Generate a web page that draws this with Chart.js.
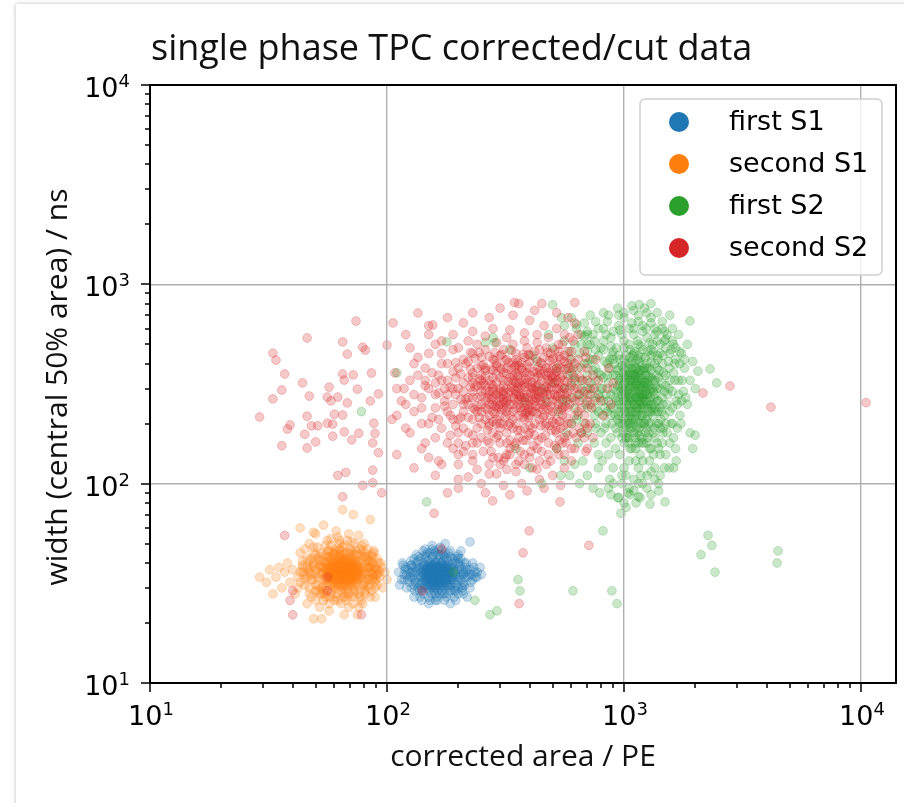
<!DOCTYPE html>
<html>
<head>
<meta charset="utf-8">
<script src="https://cdn.jsdelivr.net/npm/chart.js@4.4.1/dist/chart.umd.min.js"></script>
<style>
  html, body { margin: 0; padding: 0; background: #fff; overflow: hidden; }
  .card { position: absolute; left: 16px; top: 4px; width: 1000px; height: 1000px; background: #fff; box-shadow: 0 0 4px rgba(0,0,0,0.28); }
  #chart { position: absolute; left: 0; top: 0; }
</style>
</head>
<body>
<div class="card"></div>
<canvas id="chart" width="904" height="803"></canvas>
<script>
// [corrected area / PE, width / ns]
const firstS1 = [
  [160,34],[155,36],[170,33],[148,35],[165,38],[175,35],[152,32],[162,31],[180,34],[145,37],
  [168,36],[158,39],[172,31],[150,33],[185,36],[163,35],[142,34],[178,38],[157,30],[167,33],
  [153,38],[190,33],[161,37],[147,31],[174,37],[159,33],[183,31],[144,39],[169,40],[156,34],
  [176,32],[151,36],[164,29],[187,38],[149,38],[171,35],[158,36],[139,36],[181,36],[166,31],
  [154,30],[173,39],[146,34],[162,40],[193,35],[157,37],[168,30],[141,32],[177,34],[160,32],
  [152,40],[184,33],[163,38],[149,30],[170,37],[155,33],[189,37],[143,35],[166,35],[175,30],
  [159,41],[136,34],[180,39],[151,34],[167,38],[196,34],[148,37],[161,33],[172,41],[154,36],
  [186,31],[140,38],[164,36],[178,32],[157,32],[145,33],[169,34],[182,37],[153,35],[162,36],
  [138,31],[174,33],[150,39],[191,36],[165,32],[158,35],[147,36],[171,38],[199,33],[156,31],
  [134,37],[179,35],[160,38],[144,30],[167,36],[152,37],[185,34],[163,33],[141,36],[176,36],
  [130,35],[128,38],[132,32],[125,36],[205,35],[210,32],[202,38],[215,36],[122,33],[200,30],
  [135,41],[195,40],[155,43],[175,43],[165,44],[145,42],[188,42],[140,29],[185,29],[160,28],
  [150,27],[172,28],[195,29],[127,30],[120,38],[118,35],[220,34],[225,37],[212,40],[208,29],
  [133,44],[182,45],[158,46],[148,45],[170,46],[138,27],[178,27],[163,26],[192,27],[126,41],
  [115,33],[230,33],[224,30],[117,39],[198,43],[142,46],[168,48],[152,26],[185,25],[205,42],
  [235,36],[112,36],[240,34],[247,38],[113,31],[130,27],[218,27],[155,49],[176,50],[250,35],
  [224,51],
  [161,35],[156,33],[167,37],[151,35],[173,34],[158,37],[163,32],[146,36],[178,36],[154,34],
  [169,32],[160,36],[148,33],[175,38],[164,34],[153,37],[181,33],[159,31],[170,35],[144,35],
  [166,39],[157,35],[184,35],[150,31],[172,36],[162,34],[141,37],[177,31],[155,38],[168,34],
  [188,34],[152,33],[165,36],[147,38],[179,37],[160,30],[171,33],[143,33],[183,38],[158,33],
  [163,37],[149,36],[174,35],[156,39],[186,36],[161,32],[153,31],[176,39],[145,39],[167,35],
  [190,38],[159,38],[170,31],[152,38],[180,31],[164,38],[148,34],[173,32],[157,36],[192,32],
  [139,34],[166,33],[182,35],[154,39],[162,38],[147,32],[178,34],[169,38],[150,37],[187,33],
  [137,38],[158,40],[175,33],[164,31],[194,36],[145,31],[171,40],[155,32],[184,38],[160,40],
  [135,32],[198,37],[142,40],[189,40],[140,30],[196,31],[149,41],[181,41],[165,42],[154,28],
  [170,29],[202,34],[132,36],[206,37],[131,33],[200,40],[137,29],[193,30],[146,43],[178,42],
  [210,35],[128,34],[214,38],[126,39],[208,31],[134,40],[157,44],[173,44],[162,27],[182,28],
  [125,34],[128,36],[122,37],[130,31],[127,39],[133,38],[121,35],[131,29],[136,43],[124,32],
  [205,33],[210,36],[215,34],[203,39],[208,30],[218,37],[212,31],[222,35],[200,42],[216,40],
  [145,44],[152,45],[160,45],[168,44],[176,45],[185,43],[193,42],[138,42],[200,44],[130,42],
  [142,28],[150,29],[158,29],[167,28],[175,28],[184,30],[192,29],[200,28],[135,30],[210,28],
  [118,33],[119,37],[228,35],[232,38],[226,32],[116,40],[236,34],[121,30],[230,40],[240,36],
  [155,47],[165,47],[185,46],[145,47],[175,26],[150,25],[195,26],[140,26],[205,46],[160,26]
];

const secondS1 = [
  [62,36],[68,34],[58,38],[71,37],[65,33],[60,35],[74,35],[66,39],[55,34],[69,31],
  [63,40],[77,36],[59,32],[64,37],[70,42],[57,37],[67,35],[72,33],[61,30],[66,36],
  [54,38],[75,39],[63,34],[68,38],[58,35],[73,31],[65,41],[60,39],[79,35],[56,32],
  [67,29],[64,35],[70,36],[62,43],[59,36],[71,34],[66,32],[53,35],[76,33],[63,38],
  [69,40],[57,41],[74,37],[61,33],[65,36],[72,39],[55,30],[68,36],[60,37],[78,38],
  [64,31],[66,44],[58,33],[73,35],[62,35],[70,32],[56,36],[67,38],[75,34],[61,41],
  [64,39],[69,35],[59,30],[71,40],[57,34],[66,34],[63,32],[72,36],[54,33],[68,32],
  [60,42],[77,34],[65,38],[62,31],[74,41],[58,39],[67,36],[70,38],[63,36],[55,40],
  [66,31],[61,37],[72,30],[59,41],[69,37],[64,33],[76,37],[57,35],[68,41],[62,39],
  [73,38],[65,34],[60,33],[71,36],[58,31],[67,40],[63,42],[80,36],[56,38],[70,34],
  [61,36],[74,33],[66,37],[59,38],[69,33],[64,44],[52,36],[72,42],[65,30],[62,37],
  [48,35],[50,31],[46,38],[84,36],[87,33],[82,40],[51,42],[85,38],[45,33],[79,31],
  [53,45],[77,44],[49,39],[88,37],[44,36],[81,29],[52,28],[76,28],[57,46],[70,47],
  [63,47],[47,30],[90,35],[42,34],[86,41],[50,44],[55,27],[68,27],[74,46],[83,33],
  [40,37],[93,34],[48,27],[60,26],[78,26],[66,49],[58,49],[44,41],[89,30],[39,32],
  [95,38],[46,25],[52,24],[64,25],[72,25],[81,45],[36,30],[37,36],[34,34],[31,32],
  [33,28],[41,28],[56,52],[71,51],[62,54],[80,50],[49,48],[43,45],[98,36],[100,33],
  [38,40],[35,38],[57,23],[66,22],[53,21],[75,22],[85,27],[91,42],[47,50],[61,58],
  [50,56],[69,56],[45,47],[42,30],[29,34],[32,37],[54,62],[76,55],[88,45],[96,30],
  [65,74],[72,70],[85,66],[43,60],[49,57],[49,21],
  [64,36],[67,37],[61,34],[70,35],[58,36],[73,36],[65,40],[62,33],[68,39],[56,35],
  [71,33],[63,37],[66,35],[60,31],[75,36],[59,40],[69,36],[64,34],[72,38],[57,33],
  [67,33],[62,38],[70,39],[55,37],[74,34],[65,37],[61,40],[68,35],[63,35],[77,37],
  [58,34],[66,38],[71,31],[60,36],[73,40],[64,42],[69,34],[56,39],[67,31],[62,36],
  [75,38],[59,35],[70,37],[65,35],[61,32],[72,34],[57,38],[68,33],[63,39],[66,41],
  [78,34],[54,36],[71,39],[60,38],[74,32],[64,38],[69,42],[58,37],[67,34],[62,40],
  [76,35],[55,33],[65,39],[70,33],[61,35],[73,37],[59,33],[68,37],[63,31],[66,33],
  [80,38],[53,38],[72,41],[57,36],[75,31],[64,40],[69,38],[60,34],[67,42],[62,34],
  [78,40],[56,41],[71,37],[58,42],[74,39],[65,43],[61,38],[68,30],[63,44],[70,40],
  [82,35],[51,34],[83,38],[52,39],[81,32],[54,31],[79,42],[57,43],[76,41],[60,44],
  [84,34],[50,37],[86,39],[49,33],[78,29],[55,28],[72,28],[62,28],[67,45],[59,45],
  [73,44],[64,46],[52,41],[83,42],[48,38],[87,35],[53,30],[80,31],[47,36],[89,38],
  [45,35],[90,33],[51,29],[77,47],[44,38],[92,37],[58,28],[66,27],[71,46],[61,46],
  [84,30],[47,41],[86,44],[43,32],[94,40],[50,26],[79,25],[57,25],[69,24],[63,50],
  [50,35],[52,38],[48,33],[53,41],[51,31],[47,37],[55,44],[49,40],[54,29],[46,34],
  [86,36],[88,34],[84,38],[90,37],[83,31],[87,40],[85,33],[91,35],[82,43],[89,32],
  [52,43],[56,46],[60,47],[65,48],[70,45],[75,44],[80,43],[48,42],[84,41],[87,43],
  [53,28],[57,27],[62,26],[67,26],[72,27],[77,27],[81,28],[50,29],[86,29],[45,31],
  [44,39],[92,40],[43,36],[93,36],[46,42],[91,31],[49,45],[88,46],[55,49],[78,49],
  [58,53],[68,52],[73,50],[63,52],[51,48],[83,47],[47,28],[89,27],[54,26],[76,24],
  [60,45],[64,29],[69,28],[58,29],[73,29],[61,27],[66,28],[70,44],[56,43],[79,46]
];

const firstS2 = [
  [1100,250],[1050,280],[1150,230],[980,300],[1200,270],[1080,210],[1250,320],[1000,240],[1130,190],[1180,350],
  [1020,260],[1300,250],[950,220],[1120,300],[1060,330],[1220,200],[990,180],[1160,280],[1090,370],[1270,230],
  [1040,200],[1140,260],[920,270],[1210,310],[1070,240],[1330,290],[1010,320],[1190,170],[1110,400],[960,250],
  [1240,260],[1030,170],[1170,220],[1080,290],[1350,330],[940,310],[1150,340],[1060,190],[1280,380],[1000,290],
  [1120,160],[1200,240],[1090,260],[980,200],[1260,280],[1040,350],[1180,300],[1110,230],[900,240],[1320,220],
  [1070,310],[1230,350],[1020,220],[1140,420],[1160,190],[970,340],[1290,300],[1050,250],[1210,160],[1100,330],
  [1380,260],[1000,210],[1130,270],[1250,240],[1080,380],[930,290],[1190,250],[1060,150],[1300,340],[1150,310],
  [1010,270],[1270,200],[1120,350],[1040,230],[1220,280],[990,360],[1170,260],[1090,200],[1340,270],[960,200],
  [1110,290],[1230,310],[1050,310],[1180,200],[1070,270],[1310,240],[1000,380],[1140,240],[1260,330],[1030,290],
  [1200,220],[1100,180],[950,260],[1280,260],[1130,320],[1060,230],[1160,410],[1240,190],[1020,340],[1190,280],
  [1420,300],[880,280],[1090,440],[1150,160],[1360,230],[1010,190],[1210,370],[1070,350],[1120,210],[1250,300],
  [1400,340],[1450,270],[1480,220],[1380,380],[1420,190],[1500,310],[1350,170],[1470,360],[1520,250],[1390,420],
  [850,350],[820,260],[800,300],[870,420],[830,190],[780,230],[760,330],[900,460],[1000,480],[1150,500],
  [1300,470],[1420,450],[1550,380],[1600,290],[1580,200],[1450,160],[1300,150],[1200,130],[1050,130],[920,150],
  [840,160],[760,200],[720,280],[700,350],[740,420],[800,480],[880,540],[980,560],[1100,560],[1250,540],
  [1380,520],[1500,480],[1650,420],[1700,330],[1680,250],[1620,170],[1500,140],[1350,120],[1180,110],[1020,110],
  [900,120],[810,130],[750,160],[690,250],[660,300],[680,400],[720,500],[820,600],[950,620],[1080,640],
  [1200,620],[1350,600],[1480,580],[1600,520],[1750,450],[1800,380],[1780,290],[1720,220],[1650,150],[1550,120],
  [1400,100],[1250,95],[1100,92],[980,100],[870,105],[780,120],[700,180],[640,220],[620,330],[650,450],
  [700,560],[760,650],[860,700],[1000,720],[1150,700],[1300,680],[1450,650],[1600,600],[1850,500],[1900,330],
  [1850,250],[1900,180],[780,140],[1040,90],[1170,85],[1300,88],[1420,110],[1620,120],[940,85],[860,95],
  [1080,780],[1220,760],[940,760],[1380,720],[1560,700],[1700,560],[1950,410],[2000,300],[1300,800],[1160,790],
  [600,420],[580,350],[560,300],[620,500],[550,260],[520,380],[600,200],[640,160],[570,180],[530,230],
  [500,320],[610,270],[660,180],[590,460],[630,600],[560,520],[680,640],[600,680],[560,620],[720,700],
  [500,790],[545,680],[630,630],[700,580],[660,560],[480,560],[500,480],[520,150],[470,260],[450,300],
  [430,410],[410,440],[380,260],[330,470],[280,540],[260,510],[285,510],[400,120],[350,150],[590,110],
  [560,130],[650,100],[700,110],[620,125],[670,130],[540,110],[450,100],[740,95],[790,90],[880,88],
  [950,85],[1000,80],[1020,76],[1124,80],[1288,79],[1489,81],[971,71],[1060,88],[1150,86],[1400,92],
  [815,58],[2262,55],[2350,49],[2113,44],[2421,36],[4467,46],[4425,40],[357,33],[364,29],[609,29],
  [889,29],[934,25],[272,22],[291,23],[235,26],[191,36],[2306,376],[2460,320],[2051,367],[1898,655],
  [1995,175],[1950,150],[78,230],[110,360],[179,514],[147,81],
  [1120,270],[1060,300],[1180,240],[1010,230],[1230,290],[1090,320],[1150,360],[1040,270],[1200,330],[1130,220],
  [980,280],[1260,250],[1070,190],[1190,390],[1110,340],[1020,300],[1240,210],[1160,250],[1050,360],[1290,270],
  [950,330],[1140,290],[1080,230],[1220,380],[1000,260],[1170,310],[1120,170],[1270,310],[1030,380],[1210,250],
  [1090,280],[1150,200],[1320,300],[960,230],[1180,430],[1060,260],[1250,350],[1010,350],[1140,180],[1300,230],
  [1080,410],[1200,280],[990,310],[1130,380],[1230,180],[1040,210],[1170,340],[1280,340],[930,260],[1110,250],
  [1350,280],[1020,400],[1190,220],[1070,330],[1260,220],[1150,270],[980,390],[1220,320],[1100,210],[1330,250],
  [1050,170],[1160,370],[1240,280],[1000,340],[1120,310],[1300,370],[970,290],[1180,270],[1080,360],[1210,200],
  [1140,330],[1030,250],[1270,180],[1100,450],[1360,310],[1060,220],[1190,320],[1010,280],[1250,380],[1130,240],
  [900,300],[1400,260],[1440,320],[1370,200],[1460,250],[1410,370],[1480,290],[1390,230],[1530,280],[1350,400],
  [860,320],[880,240],[920,350],[840,280],[890,200],[910,400],[870,380],[940,180],[850,230],[960,420],
  [1000,160],[1080,150],[1170,140],[1250,160],[1340,190],[1430,210],[1560,330],[1540,410],[1460,440],[1330,460],
  [1200,470],[1060,470],[950,440],[830,410],[800,350],[790,270],[810,220],[880,170],[960,140],[1120,130],
  [1280,130],[1400,150],[1520,180],[1600,240],[1620,360],[1560,450],[1420,500],[1280,510],[1140,520],[1000,520],
  [880,490],[780,440],[740,370],[750,260],[760,190],[860,140],[1000,120],[1150,120],[1330,140],[1460,190],
  [1020,170],[1110,460],[1230,430],[1300,410],[1370,350],[1420,240],[1350,240],[1300,200],[1050,400],[940,370],
  [700,300],[650,280],[620,240],[680,200],[640,380],[600,310],[570,260],[720,420],[660,330],[590,380],
  [750,220],[700,240],[670,270],[630,210],[610,350],[700,460],[660,500],[750,520],[820,520],[900,580],
  [1050,600],[1200,580],[1350,560],[1500,530],[1650,480],[1720,400],[1750,260],[1680,190],[1560,160],[1420,140],
  [1000,680],[850,650],[1150,650],[1300,640],[1450,600],[780,600],[1100,740],[1250,720],[950,700],[820,720],
  [1050,95],[1200,100],[1350,105],[900,100],[1250,110],[1100,105],[980,110],[1150,100],[1300,115],[1480,120],
  [980,240],[1040,320],[1100,350],[1160,300],[1220,260],[1280,290],[1320,330],[1060,200],[1000,200],[960,320],
  [920,220],[900,350],[950,380],[1000,420],[1060,430],[1120,380],[1180,370],[1240,400],[1300,440],[1380,300],
  [1440,230],[1400,200],[1330,180],[1260,170],[1190,160],[1120,150],[1050,160],[980,170],[920,190],[880,220],
  [830,240],[810,300],[850,400],[890,440],[930,480],[1050,500],[1180,490],[1320,500],[1450,400],[1500,350],
  [1550,300],[1560,230],[1500,200],[1460,180],[1380,160],[1280,150],[1160,175],[1040,180],[940,210],[860,260],
  [780,280],[760,240],[800,180],[840,200],[720,320],[740,300],[700,400],[760,380],[820,340],[780,360],
  [1640,330],[1660,260],[1600,200],[1700,280],[1640,400],[1580,470],[1480,520],[1380,440],[1260,460],[1150,440],
  [1020,440],[900,420],[820,470],[760,470],[700,500],[680,550],[740,560],[840,560],[960,590],[1100,600],
  [1240,600],[1380,580],[1520,560],[1620,500],[1720,460],[1800,420],[1760,330],[1820,270],[1740,200],[1660,130]
];

const secondS2 = [
  [300,250],[270,280],[330,220],[250,230],[360,300],[290,200],[400,260],[230,320],[320,180],[280,340],
  [350,240],[260,260],[310,310],[380,210],[240,190],[340,350],[270,220],[420,280],[300,160],[220,270],
  [370,330],[290,260],[330,290],[250,350],[410,190],[280,180],[360,250],[210,230],[320,380],[390,320],
  [260,310],[300,220],[440,240],[230,210],[350,200],[280,300],[320,260],[380,360],[240,270],[300,340],
  [410,230],[270,160],[340,270],[200,300],[360,170],[290,390],[430,310],[250,200],[320,230],[380,280],
  [220,340],[310,200],[350,320],[270,250],[400,350],[240,160],[330,250],[290,320],[460,270],[210,190],
  [370,230],[260,370],[310,280],[420,200],[280,230],[340,190],[190,250],[360,390],[300,300],[250,290],
  [450,330],[230,240],[330,340],[280,270],[390,250],[320,160],[270,330],[350,280],[210,320],[400,180],
  [300,200],[240,310],[370,270],[290,240],[480,300],[260,210],[340,230],[310,360],[220,180],[380,190],
  [290,170],[350,360],[250,250],[420,340],[320,300],[270,200],[360,220],[200,210],[390,290],[300,270],
  [460,220],[230,290],[330,200],[280,370],[410,300],[250,170],[310,240],[370,310],[180,280],[340,320],
  [270,290],[440,270],[300,190],[220,250],[360,350],[290,210],[400,220],[250,330],[320,270],[380,240],
  [185,220],[195,340],[175,300],[500,260],[520,300],[490,220],[470,350],[510,200],[530,250],[480,380],
  [160,240],[150,300],[170,190],[140,270],[165,350],[180,400],[210,420],[250,430],[300,440],[350,420],
  [400,410],[450,400],[500,380],[540,340],[560,280],[550,220],[520,180],[480,160],[430,150],[380,140],
  [330,140],[280,135],[230,140],[190,150],[160,170],[140,200],[130,230],[125,330],[145,380],[170,450],
  [200,480],[240,500],[290,510],[340,500],[390,480],[440,470],[490,450],[540,420],[580,380],[600,320],
  [620,260],[600,200],[570,160],[530,140],[470,125],[410,120],[350,115],[290,112],[240,118],[200,125],
  [165,130],[140,150],[120,190],[115,260],[118,300],[135,430],[160,500],[190,560],[230,580],[280,600],
  [330,590],[380,570],[430,560],[480,540],[530,500],[580,460],[620,400],[650,340],[680,290],[640,230],
  [660,180],[620,150],[560,120],[500,110],[440,105],[370,100],[310,98],[250,100],[200,105],[160,110],
  [130,120],[110,140],[105,210],[108,360],[125,480],[150,560],[210,640],[270,680],[340,700],[400,660],
  [460,620],[520,600],[560,560],[610,520],[690,430],[700,330],[720,250],[700,190],[690,145],[600,130],
  [230,720],[300,760],[360,800],[420,740],[520,720],[580,680],[620,640],[450,800],[345,810],[620,810],
  [150,620],[180,680],[120,560],[200,95],[260,90],[330,88],[390,92],[460,95],[540,98],[180,90],
  [650,260],[700,280],[750,300],[680,220],[730,240],[760,270],[640,300],[620,340],[700,380],[780,330],
  [800,260],[720,200],[660,380],[590,420],[610,180],[740,170],[560,300],[580,240],[520,330],[540,380],
  [850,300],[880,250],[900,320],[820,220],[860,380],[760,420],[680,460],[590,540],[700,150],[640,560],
  [215,265],[245,335],[285,415],[325,195],[365,275],[405,145],[445,355],[185,305],[225,375],[265,185],
  [305,445],[345,155],[385,335],[425,245],[465,175],[195,195],[235,425],[275,315],[315,135],[355,405],
  [395,215],[435,385],[475,255],[515,345],[555,195],[205,355],[255,145],[295,285],[335,465],[375,165],
  [415,295],[455,215],[495,305],[535,165],[575,325],[175,245],[215,155],[255,395],[295,135],[335,375],
  [375,445],[415,155],[455,285],[495,185],[535,435],[165,285],[205,265],[245,215],[285,455],[325,325],
  [365,145],[405,325],[445,195],[485,415],[525,235],[565,375],[190,365],[230,175],[270,435],[310,265],
  [350,125],[390,395],[430,225],[470,305],[510,155],[550,265],[155,215],[195,405],[235,305],[275,145],
  [315,415],[355,185],[395,445],[435,165],[475,335],[515,275],[145,330],[185,175],[225,455],[265,235],
  [305,375],[345,295],[385,165],[425,425],[465,245],[505,355],[545,305],[170,400],[210,145],[250,275],
  [290,355],[330,165],[370,405],[410,265],[450,145],[490,245],[530,395],[570,215],[180,330],[220,215],
  [260,345],[300,125],[340,405],[380,305],[420,175],[460,365],[500,205],[540,285],[580,175],[240,245],
  [280,205],[320,355],[360,265],[400,195],[440,315],[480,235],[520,365],[160,320],[200,180],[240,380],
  [280,250],[320,140],[360,320],[400,440],[440,210],[480,330],[520,210],[560,410],[225,305],[265,165],
  [305,235],[345,385],[385,225],[425,305],[465,195],[505,425],[545,235],[195,280],[235,235],[275,375],
  [315,255],[355,345],[395,175],[435,275],[475,455],[515,185],[215,400],[255,320],[295,175],[335,305],
  [375,215],[415,365],[455,235],[495,345],[535,205],[575,285],[205,215],[245,455],[285,245],[325,405],
  [365,185],[405,285],[445,405],[485,195],[525,275],[565,245],[230,360],[270,195],[310,330],[350,160],
  [390,270],[430,360],[470,200],[510,320],[550,160],[590,300],[250,390],[290,280],[330,150],[370,370],
  [410,250],[450,170],[490,280],[530,300],[260,240],[300,380],[340,210],[380,320],[420,260],[460,300],
  [500,230],[540,190],[275,265],[315,215],[355,305],[395,235],[435,345],[475,280],[285,225],[325,285],
  [365,240],[405,305],[445,260],[300,290],[340,250],[380,270],[420,230],[310,260],[350,290],[390,230],
  [265,270],[295,245],[345,265],[375,255],[425,270],[280,290],[320,240],[360,280],[400,240],[440,290],
  [150,200],[160,280],[140,240],[170,330],[180,230],[155,360],[175,260],[165,210],[145,310],[190,300],
  [200,380],[210,290],[220,410],[230,450],[260,470],[280,420],[310,470],[350,450],[380,430],[420,460],
  [460,430],[500,420],[530,460],[560,440],[580,400],[600,360],[620,300],[600,270],[640,280],[660,240],
  [620,220],[580,200],[560,170],[520,150],[480,140],[440,130],[400,135],[360,130],[310,130],[270,125],
  [230,130],[200,140],[180,160],[200,160],[230,160],[190,210],[210,250],[240,230],[260,290],[230,270],
  [470,290],[490,320],[510,280],[530,320],[550,350],[500,340],[470,380],[520,260],[550,240],[570,270],
  [450,250],[430,290],[410,320],[390,360],[370,380],[340,330],[310,290],[280,310],[250,310],[230,340],
  [260,380],[290,400],[320,420],[350,390],[400,380],[440,370],[480,360],[520,380],[560,330],[590,250],
  [610,380],[640,420],[670,330],[700,260],[720,300],[740,350],[690,200],[650,190],[630,170],[680,170],
  [120,250],[130,280],[110,220],[135,350],[125,180],[145,160],[110,300],[130,400],[150,450],[170,520],
  [190,470],[220,520],[260,550],[320,540],[380,520],[430,510],[470,480],[510,470],[550,500],[600,460],
  [270,112],[320,118],[380,125],[430,118],[490,130],[560,140],[220,108],[170,125],[150,135],[600,150],
  [74,654],[46,538],[33,452],[34,417],[65,514],[68,447],[37,355],[44,320],[36,295],[33,266],
  [47,275],[57,305],[65,355],[66,331],[56,272],[62,272],[58,260],[68,254],[75,298],[72,351],
  [29,216],[46,218],[39,197],[38,188],[48,195],[51,195],[56,201],[59,199],[45,177],[59,173],
  [66,182],[76,179],[71,166],[36,155],[46,151],[50,162],[60,223],[65,221],[62,110],[67,114],
  [65,86],[79,484],[81,468],[86,359],[85,260],[92,282],[88,201],[89,179],[87,160],[92,143],
  [87,117],[79,98],[87,101],[95,90],[106,640],[100,496],[135,718],[156,625],
  [37,55],[40,29],[40,22],[78,22],[39,26],[158,71],[170,47],[141,29],[56,34],[56,29],
  [398,58],[375,45],[711,49],[361,25],[279,82],[537,81],
  [2800,309],[2154,285],[4169,242],[10500,255]
];

const seriesLabels = ['first S1', 'second S1', 'first S2', 'second S2'];
const seriesData = [firstS1, secondS1, firstS2, secondS2];
const seriesColors = ['#1f77b4', '#ff7f0e', '#2ca02c', '#d62728'];

const xTicks = [10, 100, 1000, 10000];
const yTicks = [10, 100, 1000, 10000];
const xTickLabels = [['10', '1'], ['10', '2'], ['10', '3'], ['10', '4']];
const yTickLabels = [['10', '1'], ['10', '2'], ['10', '3'], ['10', '4']];
const minorSteps = [2, 3, 4, 5, 6, 7, 8, 9];

const titleText = 'single phase TPC corrected/cut data';
const xTitle = 'corrected area / PE';
const yTitle = 'width (central 50% area) / ns';

function alpha(hex, a) {
  const n = parseInt(hex.slice(1), 16);
  return 'rgba(' + (n >> 16) + ',' + ((n >> 8) & 255) + ',' + (n & 255) + ',' + a + ')';
}

const tickFont = '27px "DejaVu Sans"';
const expFont = '18px "DejaVu Sans"';

// frame, tick marks, tick labels, legend and titles
const decorations = {
  id: 'decorations',
  afterDraw(chart) {
    const ctx = chart.ctx;
    const a = chart.chartArea;
    const xs = chart.scales.x;
    const ys = chart.scales.y;
    ctx.save();

    // frame
    ctx.strokeStyle = '#000';
    ctx.lineWidth = 2;
    ctx.strokeRect(a.left, a.top, a.right - a.left, a.bottom - a.top);

    // tick marks
    ctx.lineWidth = 1.5;
    ctx.beginPath();
    xTicks.forEach(v => {
      const px = Math.round(xs.getPixelForValue(v));
      ctx.moveTo(px, a.bottom); ctx.lineTo(px, a.bottom + 9);
      minorSteps.forEach(m => {
        const mv = v * m;
        if (mv < xs.max) {
          const mx = Math.round(xs.getPixelForValue(mv));
          ctx.moveTo(mx, a.bottom); ctx.lineTo(mx, a.bottom + 5);
        }
      });
    });
    yTicks.forEach(v => {
      const py = Math.round(ys.getPixelForValue(v));
      ctx.moveTo(a.left, py); ctx.lineTo(a.left - 9, py);
      minorSteps.forEach(m => {
        const mv = v * m;
        if (mv < ys.max) {
          const my = Math.round(ys.getPixelForValue(mv));
          ctx.moveTo(a.left, my); ctx.lineTo(a.left - 5, my);
        }
      });
    });
    ctx.stroke();

    // tick labels with exponents
    ctx.fillStyle = '#000';
    ctx.textBaseline = 'alphabetic';
    ctx.textAlign = 'left';
    xTicks.forEach((v, i) => {
      const px = xs.getPixelForValue(v);
      ctx.font = tickFont;
      const wb = ctx.measureText(xTickLabels[i][0]).width;
      ctx.font = expFont;
      const we = ctx.measureText(xTickLabels[i][1]).width;
      const x0 = px - (wb + we) / 2 + 1;
      ctx.font = tickFont;
      ctx.fillText(xTickLabels[i][0], x0, a.bottom + 42);
      ctx.font = expFont;
      ctx.fillText(xTickLabels[i][1], x0 + wb, a.bottom + 32);
    });
    yTicks.forEach((v, i) => {
      const py = ys.getPixelForValue(v);
      ctx.font = expFont;
      const we = ctx.measureText(yTickLabels[i][1]).width;
      ctx.font = tickFont;
      const wb = ctx.measureText(yTickLabels[i][0]).width;
      const x1 = a.left - 20;
      ctx.fillText(yTickLabels[i][0], x1 - we - wb, py + 12);
      ctx.font = expFont;
      ctx.fillText(yTickLabels[i][1], x1 - we, py + 2);
    });

    // legend
    const lx = 640, ly = 99, lw = 242, lh = 176;
    ctx.fillStyle = 'rgba(255,255,255,0.8)';
    ctx.strokeStyle = '#d0d0d0';
    ctx.lineWidth = 1.5;
    ctx.beginPath();
    ctx.roundRect(lx, ly, lw, lh, 5);
    ctx.fill();
    ctx.stroke();
    ctx.font = tickFont;
    ctx.textBaseline = 'middle';
    chart.data.datasets.forEach((ds, i) => {
      const ry = ly + 23 + i * 42;
      ctx.fillStyle = seriesColors[i];
      ctx.beginPath();
      ctx.arc(lx + 39, ry, 10, 0, Math.PI * 2);
      ctx.fill();
      ctx.fillStyle = '#000';
      ctx.fillText(ds.label, lx + 89, ry + 1);
    });

    // titles
    ctx.textBaseline = 'alphabetic';
    ctx.fillStyle = '#111';
    ctx.font = '36px "Open Sans"';
    ctx.textAlign = 'left';
    ctx.fillText(titleText, 151, 60);
    ctx.font = '30px "Open Sans"';
    ctx.textAlign = 'center';
    ctx.fillText(xTitle, (a.left + a.right) / 2, 766);
    ctx.translate(67, 387);
    ctx.rotate(-Math.PI / 2);
    ctx.fillText(yTitle, 0, 0);
    ctx.restore();
  }
};

function logAxis(min, max, ticks) {
  return {
    type: 'logarithmic',
    min: min,
    max: max,
    z: 1,
    ticks: { display: false },
    grid: { color: '#b0b0b0', lineWidth: 1.4, drawTicks: false, z: 1 },
    border: { display: false },
    afterBuildTicks: scale => { scale.ticks = ticks.map(v => ({ value: v })); }
  };
}

new Chart(document.getElementById('chart'), {
  type: 'scatter',
  data: {
    datasets: seriesLabels.map((label, i) => ({
      label: label,
      data: seriesData[i],
      order: seriesLabels.length - 1 - i,
      pointRadius: 4.4,
      pointHoverRadius: 4.4,
      pointBorderWidth: 0.8,
      backgroundColor: alpha(seriesColors[i], 0.25),
      borderColor: alpha(seriesColors[i], 0.3)
    }))
  },
  options: {
    responsive: false,
    animation: false,
    events: [],
    layout: { padding: { left: 150, top: 85, right: 8, bottom: 120 } },
    plugins: { legend: { display: false }, tooltip: { enabled: false } },
    scales: {
      x: logAxis(10, 14050, xTicks),
      y: logAxis(10, 10000, yTicks)
    }
  },
  plugins: [decorations]
});
</script>
</body>
</html>
